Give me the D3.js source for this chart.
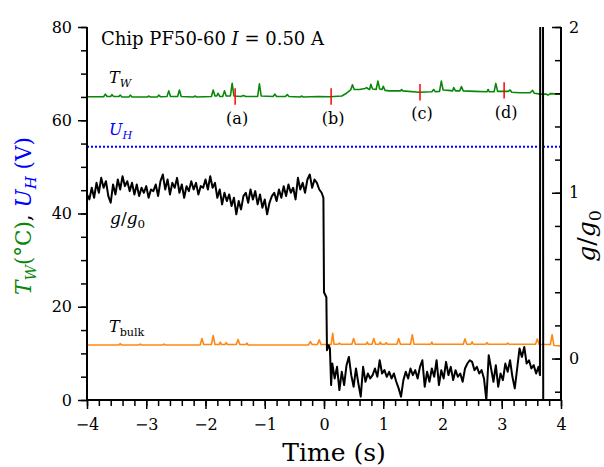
<!DOCTYPE html>
<html><head><meta charset="utf-8">
<script src="https://cdn.jsdelivr.net/npm/d3@7"></script>
<style>body{margin:0;background:#fff}svg{display:block}text{font-family:"DejaVu Serif",serif}</style>
</head><body><svg id="c" width="604" height="467"></svg>
<script>
// ---------- data ----------
const xTicks=[-4,-3,-2,-1,0,1,2,3,4];
const xMinorTicks=d3.range(-20,21).map(d=>d/5);
const yLeftTicks=[0,20,40,60,80];
const yLeftMinor=d3.range(0,81,5);
const yRightTicks=[0,1,2];
const yRightMinor=[-0.2,0,0.2,0.4,0.6,0.8,1,1.2,1.4,1.6,1.8,2];

const uH=54.3;

// T_W breakpoints [time s, °C]
const twData=[[-4.00,65.05],[-3.72,65.05],[-3.69,65.6],[-3.66,65.1],[-3.60,65.1],[-3.58,65.5],[-3.55,65.1],[-3.46,65.1],[-3.44,65.4],[-3.41,65.0],[-3.29,65.0],[-3.27,65.4],[-3.24,65.0],[-2.98,65.0],[-2.96,65.2],[-2.93,65.0],[-2.81,65.0],[-2.79,65.4],[-2.76,65.05],[-2.65,65.1],[-2.62,66.3],[-2.59,65.1],[-2.47,65.1],[-2.44,66.5],[-2.41,65.1],[-2.20,65.0],[-2.18,65.2],[-2.15,65.0],[-1.90,65.1],[-1.87,66.5],[-1.84,65.2],[-1.81,65.2],[-1.79,65.8],[-1.76,65.1],[-1.71,65.1],[-1.68,66.3],[-1.65,65.2],[-1.58,65.2],[-1.55,67.9],[-1.52,65.2],[-1.40,65.1],[-1.36,65.3],[-1.32,65.1],[-1.12,65.1],[-1.09,67.8],[-1.06,65.2],[-0.86,65.1],[-0.83,65.6],[-0.80,65.1],[-0.65,65.1],[-0.62,65.5],[-0.59,65.1],[-0.40,65.0],[-0.38,65.2],[-0.35,65.0],[-0.10,65.1],[0.10,65.05],[0.30,65.2],[0.38,65.8],[0.45,66.5],[0.48,67.6],[0.51,66.6],[0.60,66.6],[0.69,66.8],[0.72,67.0],[0.75,66.7],[0.77,66.6],[0.79,67.7],[0.82,66.7],[0.88,66.6],[0.91,68.4],[0.94,66.7],[0.98,66.6],[1.00,67.3],[1.03,66.4],[1.10,66.3],[1.29,66.3],[1.31,66.6],[1.33,66.3],[1.60,66.0],[1.82,66.1],[1.85,66.6],[1.88,66.1],[1.95,66.2],[1.98,68.4],[2.01,66.5],[2.10,66.4],[2.17,66.3],[2.19,67.0],[2.22,66.3],[2.29,66.3],[2.32,67.2],[2.35,66.3],[2.55,66.2],[2.75,66.1],[2.77,66.6],[2.79,66.1],[2.87,66.1],[2.90,67.9],[2.93,66.2],[3.03,66.2],[3.11,66.2],[3.14,66.5],[3.17,66.0],[3.30,65.9],[3.48,65.9],[3.52,66.4],[3.55,65.8],[3.65,65.6],[3.75,65.6],[3.78,65.4],[3.82,65.7],[4.00,65.6]];

// T_bulk breakpoints [time s, °C]
const tbData=[[-4,11.8],[-3.46,11.8],[-3.44,12.1],[-3.42,11.8],[-3.12,11.8],[-3.10,12.0],[-3.08,11.8],[-2.72,11.8],[-2.70,12.0],[-2.68,11.8],[-2.09,11.8],[-2.06,13.2],[-2.03,11.9],[-1.90,11.9],[-1.87,13.8],[-1.84,11.9],[-1.77,11.9],[-1.75,12.4],[-1.73,11.9],[-1.67,11.9],[-1.65,12.3],[-1.63,11.9],[-1.48,11.9],[-1.45,13.0],[-1.42,11.9],[-1.32,11.9],[-1.30,12.2],[-1.28,11.8],[-0.80,11.8],[-0.26,11.8],[-0.23,12.5],[-0.20,11.9],[-0.11,11.9],[-0.08,12.9],[-0.05,11.9],[0.12,11.9],[0.147,14.3],[0.17,11.95],[0.24,11.95],[0.26,12.2],[0.28,11.95],[0.47,11.95],[0.50,13.2],[0.53,11.95],[0.71,11.95],[0.73,12.4],[0.75,11.95],[0.81,11.95],[0.84,13.2],[0.87,11.95],[0.93,11.95],[0.95,12.4],[0.97,11.95],[1.03,11.95],[1.05,12.3],[1.07,11.95],[1.23,11.95],[1.26,13.2],[1.29,11.95],[1.46,11.95],[1.49,14.0],[1.52,11.95],[1.80,11.95],[1.82,12.4],[1.84,11.95],[2.35,11.95],[2.38,13.1],[2.41,11.95],[2.48,11.95],[2.50,12.5],[2.52,11.95],[2.73,11.95],[2.75,12.3],[2.77,11.95],[3.08,11.95],[3.10,12.2],[3.12,11.95],[3.57,11.95],[3.60,13.1],[3.63,11.95],[3.82,11.9],[3.85,14.0],[3.88,11.7],[4.00,11.6]];

// g/g0 before the drop: sampled every 0.04 s from t = -4
const gBeforeStart=-4, gStep=0.04;
const gBefore=[0.99,0.96,1.03,0.97,1.06,1.00,1.09,1.03,1.07,0.98,
0.94,1.05,0.99,1.08,1.02,1.10,1.04,1.07,1.01,1.06,
0.99,1.05,0.98,1.03,1.00,1.04,0.97,1.02,1.01,1.05,
0.98,1.07,1.11,1.02,1.08,0.99,1.06,1.03,1.09,1.00,
1.05,0.97,1.04,1.01,1.07,1.02,1.06,0.99,1.04,1.03,
1.08,1.02,1.10,1.03,1.06,0.97,1.02,0.93,1.00,0.95,
0.99,0.92,0.97,0.87,0.95,0.90,0.98,1.00,0.94,1.02,
0.96,1.01,0.93,0.99,0.91,0.96,0.87,0.94,0.98,1.00,
0.95,1.02,0.97,1.04,0.98,1.05,1.00,1.03,0.96,1.09,
1.02,1.06,1.00,1.08,1.11,1.03,1.08,1.06,1.02,1.00];
// the drop [time s, g/g0]
const gDrop=[[-0.01,0.97],[0.00,0.40],[0.04,0.37],[0.05,0.05],[0.08,0.08],[0.10,0.06],[0.12,-0.16]];
// g/g0 after the drop: every 0.04 s from t = 0.14
const gAfterStart=0.14;
const gAfter=[-0.03,-0.12,-0.05,-0.19,-0.08,-0.16,-0.04,0.01,-0.10,-0.17,
-0.06,-0.15,-0.23,-0.05,-0.14,-0.09,-0.12,-0.10,-0.06,-0.11,
-0.01,-0.09,-0.07,-0.11,-0.08,-0.12,-0.09,-0.14,-0.18,-0.23,
-0.13,-0.08,-0.12,-0.06,-0.10,-0.07,-0.12,-0.05,-0.01,-0.17,
-0.08,-0.14,-0.06,-0.11,-0.01,-0.16,-0.07,-0.12,-0.02,-0.10,
-0.05,-0.13,-0.07,-0.11,-0.09,-0.14,-0.06,-0.03,-0.01,-0.02,
-0.07,-0.05,-0.09,-0.07,-0.12,-0.25,0.02,-0.06,-0.14,-0.04,
-0.17,-0.09,-0.13,-0.03,-0.08,-0.01,-0.11,-0.18,-0.06,0.06,
0.01,0.07,-0.03,-0.01,-0.06,-0.04,-0.09,-0.05];
// the final excursion [time s, g/g0]
const gSpike=[[3.645,-0.10],[3.651,3.0],[3.695,3.0],[3.701,-1.0]];

// event markers (a)-(d)
const markerLabels=["(a)","(b)","(c)","(d)"];
const markerT=[-1.50,0.12,1.62,3.04];
const markerV=[65.1,65.1,66.0,66.4];

// ---------- drawing ----------
const svg=d3.select("#c");
const FONT='"DejaVu Serif",serif';
const L=87,R=561,T=27,B=400;
const x=d3.scaleLinear([-4,4],[L,R]);
const yL=d3.scaleLinear([0,80],[B,T]);
const yR=d3.scaleLinear([-0.25,2],[B,T]);
const green="#0a870a", orange="#ff8811", blue="#0000ff", red="#ff0000";

svg.append("clipPath").attr("id","clip").append("rect").attr("x",L).attr("y",T).attr("width",R-L).attr("height",B-T);
const plot=svg.append("g").attr("clip-path","url(#clip)");

// U_H dotted
plot.append("line").attr("x1",x(-4)).attr("x2",x(4)).attr("y1",yL(uH)).attr("y2",yL(uH))
  .attr("stroke",blue).attr("stroke-width",2).attr("stroke-dasharray","2,2");

const lineL=d3.line().x(d=>x(d[0])).y(d=>yL(d[1]));
plot.append("path").datum(twData).attr("d",lineL).attr("fill","none").attr("stroke",green).attr("stroke-width",1.6).attr("stroke-linejoin","round");
plot.append("path").datum(tbData).attr("d",lineL).attr("fill","none").attr("stroke",orange).attr("stroke-width",1.6).attr("stroke-linejoin","round");

// markers
markerT.forEach((t,i)=>{
  plot.append("line").attr("x1",x(t)).attr("x2",x(t)).attr("y1",yL(markerV[i]+1.75)).attr("y2",yL(markerV[i]-1.75))
    .attr("stroke",red).attr("stroke-width",1.5);
  svg.append("text").attr("x",x(t)+2).attr("y",yL(markerV[i]-1.75)+19).attr("text-anchor","middle")
    .attr("font-family",FONT).attr("font-size",16).text(markerLabels[i]);
});

// g/g0
const gData=[];
gBefore.forEach((v,i)=>gData.push([gBeforeStart+i*gStep,v]));
gDrop.forEach(d=>gData.push(d));
gAfter.forEach((v,i)=>gData.push([gAfterStart+i*gStep,v]));
gSpike.forEach(d=>gData.push(d));
const lineR=d3.line().x(d=>x(d[0])).y(d=>yR(d[1]));
plot.append("path").datum(gData).attr("d",lineR).attr("fill","none").attr("stroke","#000").attr("stroke-width",2).attr("stroke-linejoin","round");

// axes
function styleAxis(g){g.attr("font-family",FONT);g.selectAll(".tick line").attr("stroke","#000").attr("stroke-width",1.5);g.selectAll("text").attr("font-size",16).attr("fill","#000").attr("font-family",FONT);g.select(".domain").remove();}
const fmt=d=>d<0?"\u2212"+Math.abs(d):String(d);
svg.append("g").attr("transform",`translate(0,${B})`).call(d3.axisBottom(x).tickValues(xMinorTicks).tickSize(6).tickFormat("")).call(styleAxis);
svg.append("g").attr("transform",`translate(0,${B})`).call(d3.axisBottom(x).tickValues(xTicks).tickSize(9).tickPadding(10).tickFormat(fmt)).call(styleAxis);
svg.append("g").attr("transform",`translate(${L},0)`).call(d3.axisLeft(yL).tickValues(yLeftMinor).tickSize(6).tickFormat("")).call(styleAxis);
svg.append("g").attr("transform",`translate(${L},0)`).call(d3.axisLeft(yL).tickValues(yLeftTicks).tickSize(9).tickPadding(6).tickFormat(d3.format("d"))).call(styleAxis);
svg.append("g").attr("transform",`translate(${R},0)`).call(d3.axisRight(yR).tickValues(yRightMinor).tickSize(-6).tickFormat("")).call(styleAxis);
svg.append("g").attr("transform",`translate(${R},0)`).call(d3.axisRight(yR).tickValues(yRightTicks).tickSize(-9).tickPadding(8).tickFormat(d3.format("d"))).call(styleAxis);
// axis lines
svg.append("line").attr("x1",L).attr("x2",L).attr("y1",T).attr("y2",B+1).attr("stroke","#000").attr("stroke-width",2);
svg.append("line").attr("x1",R).attr("x2",R).attr("y1",T).attr("y2",B+1).attr("stroke","#000").attr("stroke-width",2);
svg.append("line").attr("x1",L-1).attr("x2",R+1).attr("y1",B).attr("y2",B).attr("stroke","#000").attr("stroke-width",2);

// rich text helper
function rich(sel,parts,size){
  sel.attr("font-family",FONT);
  parts.forEach(p=>{
    const ts=sel.append("tspan").text(p.t).attr("fill",p.c||"#000");
    if(p.i) ts.attr("font-style","italic");
    if(p.sub){ts.attr("font-size",size*0.7).attr("dy",size*0.22);}
    else if(p.after){ts.attr("dy",-size*0.22);}
  });
  return sel;
}
// title
rich(svg.append("text").attr("x",101).attr("y",45).attr("font-size",18),
  [{t:"Chip PF50-60 "},{t:"I",i:1},{t:" = 0.50 A"}],18);
// T_W label
rich(svg.append("text").attr("x",109).attr("y",83).attr("font-size",16),[{t:"T",i:1},{t:"W",i:1,sub:1}],16);
// U_H label
rich(svg.append("text").attr("x",109).attr("y",135).attr("font-size",16),[{t:"U",i:1,c:blue},{t:"H",i:1,sub:1,c:blue}],16);
// g/g0 label
rich(svg.append("text").attr("x",110).attr("y",224).attr("font-size",17),[{t:"g",i:1},{t:"/"},{t:"g",i:1},{t:"0",sub:1}],17);
// T_bulk label
rich(svg.append("text").attr("x",109).attr("y",332).attr("font-size",16),[{t:"T",i:1},{t:"bulk",sub:1}],16);

// axis titles
svg.append("text").attr("x",334).attr("y",461).attr("text-anchor","middle").attr("font-family",FONT).attr("font-size",25).text("Time (s)");
rich(svg.append("text").attr("transform","translate(31,216) rotate(-90)").attr("text-anchor","middle").attr("font-size",21.5),
  [{t:"T",i:1,c:green},{t:"W",i:1,sub:1,c:green},{t:"(°C)",after:1,c:green},{t:", "},{t:"U",i:1,c:blue},{t:"H",i:1,sub:1,c:blue},{t:" (V)",after:1,c:blue}],21.5);
rich(svg.append("text").attr("transform","translate(595,236) rotate(-90)").attr("text-anchor","middle").attr("font-size",25),
  [{t:"g",i:1},{t:"/"},{t:"g",i:1},{t:"0",sub:1}],25);
</script></body></html>
